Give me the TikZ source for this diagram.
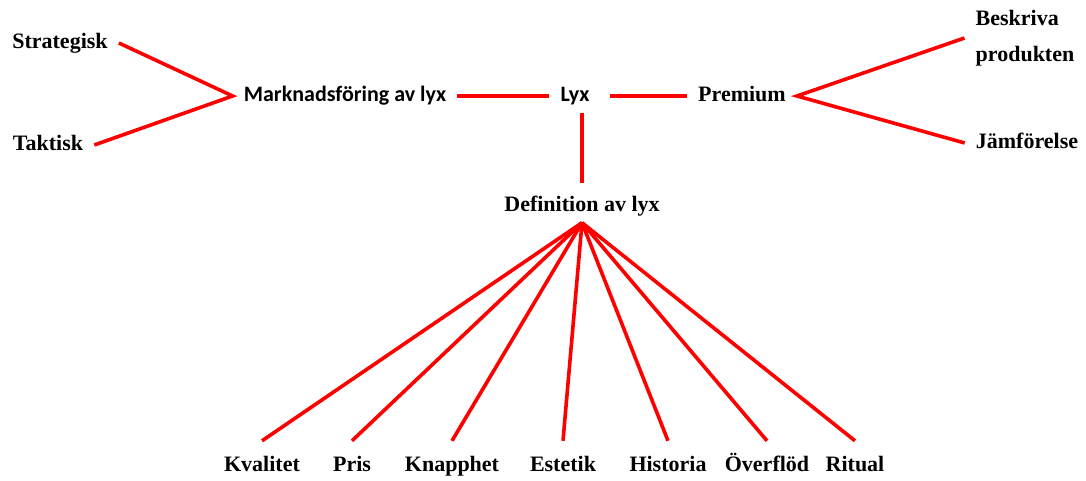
\documentclass[tikz,border=0pt]{standalone}
\usepackage{fontspec}
\setmainfont{Liberation Serif}
\newfontfamily\calfont{Carlito}
\usepackage{tikz}
\usetikzlibrary{positioning,calc}
\definecolor{lRed}{RGB}{255,0,0}

\begin{document}
\begin{tikzpicture}[x=1pt,y=-1pt,
  lbl/.style={font=\fontsize{22}{25}\selectfont\bfseries,inner xsep=11pt,inner ysep=7pt},
  tl/.style={lbl,text height=15pt,text depth=4pt},
  cl/.style={tl,font=\fontsize{22}{26}\selectfont\calfont\bfseries},
  lnk/.style={draw=lRed,line width=3.6pt}]
  \useasboundingbox (0,0) rectangle (1086,481);
  % top row
  \node[tl] (strat) at (60,43) {Strategisk};
  \node[tl] (takt) at (48,145) {Taktisk};
  \node[cl] (mark) at (345,96) {Marknadsföring av lyx};
  \node[cl] (lyx) at (575,96) {Lyx};
  \node[tl] (prem) at (742,96) {Premium};
  \node[lbl,align=left] (besk) at (1025,38) {Beskriva\\[11pt]produkten};
  \node[tl] (jamf) at (1027,143) {Jämförelse};
  \node[tl] (def) at (582,206) {Definition av lyx};
  % bottom row
  \node[tl] (kval) at (262,466) {Kvalitet};
  \node[tl] (pris) at (352,466) {Pris};
  \node[tl] (knap) at (452,466) {Knapphet};
  \node[tl] (este) at (563,466) {Estetik};
  \node[tl] (hist) at (668,466) {Historia};
  \node[tl] (over) at (767,466) {Överflöd};
  \node[tl] (ritu) at (855,466) {Ritual};
  % connectors
  \draw[lnk] (strat.east) -- (mark.west) -- (takt.east);
  \draw[lnk] (mark.east) -- (lyx.west);
  \draw[lnk,shorten <=9pt] (lyx.east) -- (prem.west);
  \draw[lnk] (besk.west) -- (prem.east) -- (jamf.west);
  \draw[lnk] (def.north |- lyx.south) -- ([yshift=6.5pt]def.north);
  \draw[lnk] (def.south) -- ([yshift=8.5pt]kval.north);
  \draw[lnk] (def.south) -- ([yshift=8.5pt]pris.north);
  \draw[lnk] (def.south) -- ([yshift=8.5pt]knap.north);
  \draw[lnk] (def.south) -- ([yshift=8.5pt]este.north);
  \draw[lnk] (def.south) -- ([yshift=8.5pt]hist.north);
  \draw[lnk] (def.south) -- ([yshift=8.5pt]over.north);
  \draw[lnk] (def.south) -- ([yshift=8.5pt]ritu.north);
\end{tikzpicture}
\end{document}
